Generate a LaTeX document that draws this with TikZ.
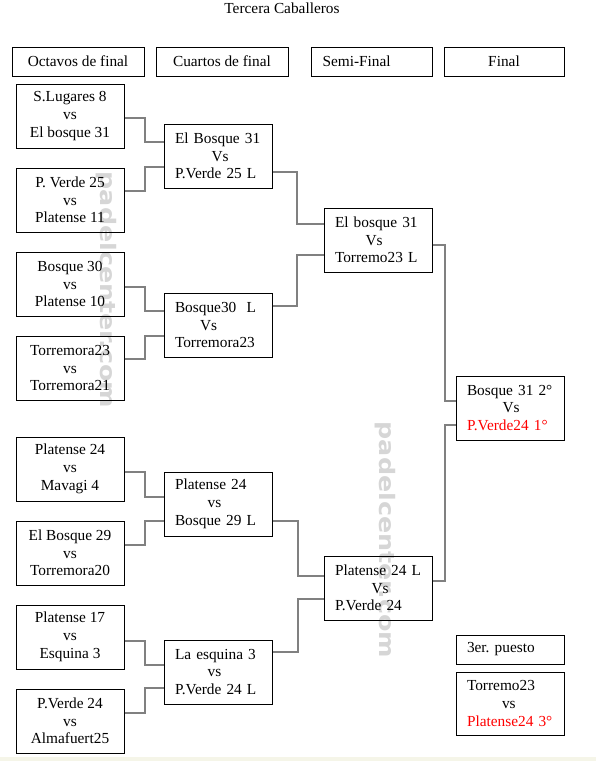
\documentclass[tikz,border=0pt]{standalone}
\usepackage{fontspec}
\usepackage{graphicx}
\setmainfont{Liberation Serif}
\newfontfamily\wmfont{DejaVu Sans}
\definecolor{conngray}{RGB}{128,128,128}
\definecolor{wmgray}{RGB}{214,214,214}
\definecolor{stripbg}{RGB}{245,245,232}
\frenchspacing
\begin{document}
\begin{tikzpicture}[x=0.75pt,y=-0.75pt,
  txt/.style={font=\fontsize{11.5}{13.3}\selectfont},
  cbox/.style={txt, draw=black, line width=0.75pt, minimum width=81pt, minimum height=48pt, inner sep=0pt, align=center},
  lbox/.style={txt, draw=black, line width=0.75pt, text width=64.5pt, inner xsep=8.25pt, inner ysep=0pt, minimum height=48pt, align=left},
  hbox/.style={txt, draw=black, line width=0.75pt, minimum height=21.75pt, inner sep=0pt, align=center},
  conn/.style={draw=conngray, line width=1.5pt},
  wm/.style={text=wmgray, rotate=-90, inner sep=0pt, font=\wmfont\bfseries\fontsize{16}{16}\selectfont}
]
\useasboundingbox (0,0) rectangle (596,761);
\fill[white] (0,0) rectangle (596,761);
\fill[stripbg] (0,757) rectangle (596,761);

% watermarks
\node[wm] (wm1) at (106,290) {\scalebox{1.19}[1]{padelcenter.com}};
\node[wm] (wm2) at (385,540) {\scalebox{1.19}[1]{padelcenter.com}};

% title
\node[txt, inner sep=0pt] (title) at (282,8) {Tercera Caballeros};

% headers
\node[hbox, minimum width=99pt] (h1) at (78,61.5) {Octavos de final};
\node[hbox, minimum width=99pt] (h2) at (222,61.5) {Cuartos de final};
\node[hbox, text width=74.25pt, inner xsep=8.25pt, align=left] (h3) at (372,61.5) {Semi-Final};
\node[hbox, minimum width=90pt] (h4) at (504,61.5) {Final};

% round of 16
\node[cbox] (r1) at (70,116) {S.Lugares 8\\vs\\El bosque 31};
\node[cbox] (r2) at (70,200) {P. Verde 25\\vs\\Platense 11};
\node[cbox] (r3) at (70,284) {Bosque 30\\vs\\Platense 10};
\node[cbox] (r4) at (70,368) {Torremora23\\vs\\Torremora21};
\node[cbox] (r5) at (70,469) {Platense 24\\vs\\Mavagi 4};
\node[cbox] (r6) at (70,553) {El Bosque 29\\vs\\Torremora20};
\node[cbox] (r7) at (70,637) {Platense 17\\vs\\Esquina 3};
\node[cbox] (r8) at (70,721) {P.Verde 24\\vs\\Almafuert25};

% quarter finals
\node[lbox] (q1) at (218,156) {El~Bosque~31\\\hspace*{27.5pt}Vs\\P.Verde~25~L};
\node[lbox] (q2) at (218,325) {Bosque30~~L\\\hspace*{18.75pt}Vs\\Torremora23};
\node[lbox] (q3) at (218,504) {Platense~24\\\hspace*{24.5pt}vs\\Bosque~29~L};
\node[lbox] (q4) at (218,672) {La~esquina~3\\\hspace*{24.5pt}vs\\P.Verde~24~L};

% semi finals
\node[lbox] (s1) at (378,240) {El~bosque~31\\\hspace*{23pt}Vs\\Torremo23~L};
\node[lbox] (s2) at (378,588) {Platense~24~L\\\hspace*{27.5pt}Vs\\P.Verde~24};

% final
\node[lbox] (f) at (510,408) {Bosque~31~2°\\\hspace*{26.75pt}Vs\\{\color{red}P.Verde24~1°}};

% third place
\node[hbox, text width=64.5pt, inner xsep=8.25pt, align=left] (th) at (510,649.5) {3er. puesto};
\node[lbox, minimum height=47.25pt] (t) at (510,703.5) {Torremo23\\\hspace*{26.25pt}vs\\{\color{red}Platense24~3°}};

% connectors round of 16 -> quarter finals
\draw[conn] ([yshift=-1.5pt]r1.east) -- ++(20,0) |- ([yshift=10.5pt]q1.west);
\draw[conn] ([yshift=6.75pt]r2.east) -- ++(20,0) |- ([yshift=-8.25pt]q1.west);
\draw[conn] ([yshift=-2.25pt]r3.east) -- ++(20,0) |- ([yshift=10.5pt]q2.west);
\draw[conn] ([yshift=6.75pt]r4.east) -- ++(20,0) |- ([yshift=-8.25pt]q2.west);
\draw[conn] ([yshift=-2.25pt]r5.east) -- ++(20,0) |- ([yshift=5.25pt]q3.west);
\draw[conn] ([yshift=6pt]r6.east) -- ++(20,0) |- ([yshift=-12.75pt]q3.west);
\draw[conn] ([yshift=-3pt]r7.east) -- ++(20,0) |- ([yshift=5.25pt]q4.west);
\draw[conn] ([yshift=6pt]r8.east) -- ++(20,0) |- ([yshift=-12pt]q4.west);

% quarter finals -> semi finals
\draw[conn] ([yshift=-12pt]q1.east) -- ++(24,0) |- ([yshift=12pt]s1.west);
\draw[conn] ([yshift=14.25pt]q2.east) -- ++(24,0) |- ([yshift=-11.25pt]s1.west);
\draw[conn] ([yshift=-12.75pt]q3.east) -- ++(25,0) |- ([yshift=9pt]s2.west);
\draw[conn] ([yshift=15pt]q4.east) -- ++(25,0) |- ([yshift=-8.25pt]s2.west);

% semi finals -> final
\draw[conn] ([yshift=-3.75pt]s1.east) -- ++(12,0) |- ([yshift=5.25pt]f.west);
\draw[conn] ([yshift=5.25pt]s2.east) -- ++(12,0) |- ([yshift=-12.75pt]f.west);
\end{tikzpicture}
\end{document}
